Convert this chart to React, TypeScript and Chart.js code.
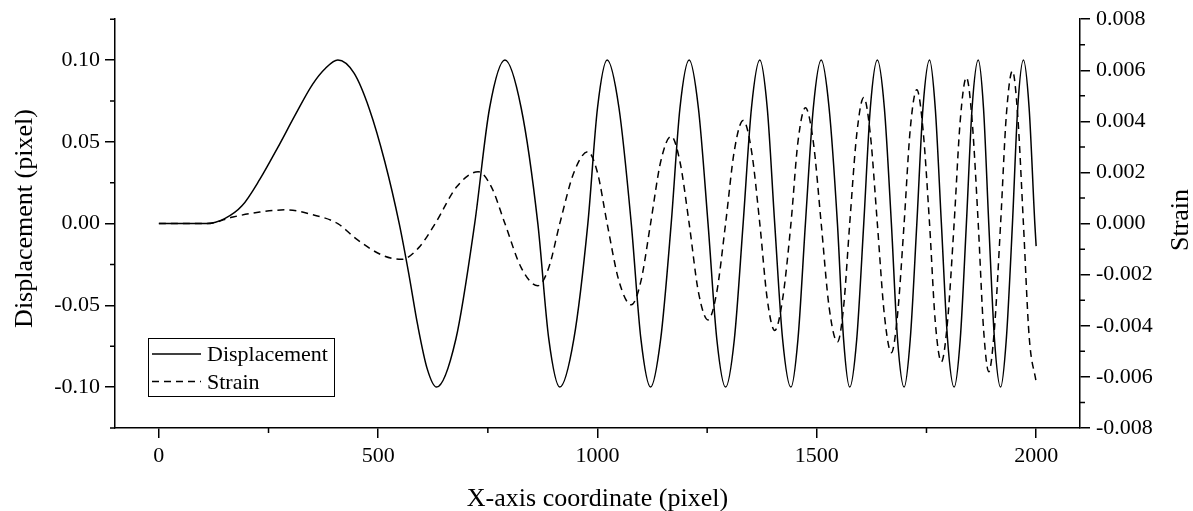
import { useEffect, useRef } from 'react';
import { Chart, registerables } from 'chart.js';

Chart.register(...registerables);

const FONT = "'Liberation Serif', 'Times New Roman', serif";

const xTitle = 'X-axis coordinate (pixel)';
const dispTitle = 'Displacement (pixel)';
const strainTitle = 'Strain';

const xTicks = [0, 500, 1000, 1500, 2000];
const xMinorTicks = [250, 750, 1250, 1750];
const dispTicks = [-0.1, -0.05, 0, 0.05, 0.1];
const dispMinorTicks = [-0.125, -0.075, -0.025, 0.025, 0.075, 0.125];
const strainTicks = [-0.008, -0.006, -0.004, -0.002, 0, 0.002, 0.004, 0.006, 0.008];
const strainMinorTicks = [-0.007, -0.005, -0.003, -0.001, 0.001, 0.003, 0.005, 0.007];

const dispX = [
  0, 110, 150, 190, 230, 270, 310, 350, 380, 408, 445, 480, 515, 548, 570, 590, 612, 633, 677, 720, 754, 789,
  826, 864, 889, 914, 946, 978, 1000, 1022, 1049, 1077, 1099, 1121, 1144, 1168, 1188, 1209,
  1230, 1252, 1272, 1292, 1312, 1332, 1351, 1370, 1387, 1404, 1422, 1441, 1457, 1474, 1492, 1510,
  1528, 1547, 1561, 1575, 1591, 1607, 1622, 1638, 1654, 1670, 1684, 1699, 1713, 1728, 1742, 1757,
  1770, 1784, 1798, 1813, 1827, 1841, 1854, 1868, 1880, 1892, 1905, 1919, 1932, 1946, 1958, 1971,
  1984, 1997, 2000,
];
const dispY = [
  0, 0, 0.003, 0.011, 0.027, 0.046, 0.066, 0.085, 0.095, 0.1, 0.092, 0.07, 0.038, 0, -0.031, -0.062, -0.089, -0.1, -0.0707, 0, 0.0707, 0.1,
  0.0707, 0, -0.0707, -0.1, -0.0707, 0, 0.0707, 0.1, 0.0707, 0, -0.0707, -0.1, -0.0707, 0, 0.0707, 0.1,
  0.0707, 0, -0.0707, -0.1, -0.0707, 0, 0.0707, 0.1, 0.0707, 0, -0.0707, -0.1, -0.0707, 0, 0.0707, 0.1,
  0.0707, 0, -0.0707, -0.1, -0.0707, 0, 0.0707, 0.1, 0.0707, 0, -0.0707, -0.1, -0.0707, 0, 0.0707, 0.1,
  0.0707, 0, -0.0707, -0.1, -0.0707, 0, 0.0707, 0.1, 0.0707, 0, -0.0707, -0.1, -0.0707, 0, 0.0707, 0.1,
  0.0707, 0, -0.0138,
];

const strainX = [
  0, 110, 169, 230, 290, 350, 408, 450, 511, 553, 592, 630, 679, 728, 758, 789,
  826, 864, 889, 914, 946, 978, 1000, 1022, 1049, 1077, 1099, 1121, 1144, 1168, 1188, 1209,
  1230, 1252, 1272, 1292, 1312, 1332, 1351, 1370, 1387, 1404, 1422, 1441, 1457, 1474, 1492, 1510,
  1528, 1547, 1561, 1575, 1591, 1607, 1622, 1638, 1654, 1670, 1684, 1699, 1713, 1728, 1742, 1757,
  1770, 1784, 1798, 1813, 1827, 1841, 1854, 1868, 1880, 1892, 1905, 1919, 1932, 1946, 1958, 1971,
  1984, 2000,
];
const strainY = [
  0, 0, 0.00026, 0.00045, 0.00054, 0.00035, 0, -0.0006, -0.00125, -0.0014, -0.00095, 0, 0.00144, 0.00203, 0.00144, 0,
  -0.00172, -0.00243, -0.00172, 0, 0.00199, 0.00281, 0.00199, 0, -0.00225, -0.00318, -0.00225, 0, 0.00242, 0.00342, 0.00242, 0,
  -0.00267, -0.00377, -0.00267, 0, 0.00286, 0.00404, 0.00286, 0, -0.00296, -0.00418, -0.00296, 0, 0.0032, 0.00453, 0.0032, 0,
  -0.00327, -0.00463, -0.00327, 0, 0.00349, 0.00494, 0.00349, 0, -0.00357, -0.00505, -0.00357, 0, 0.0037, 0.00524, 0.0037, 0,
  -0.00383, -0.00541, -0.00383, 0, 0.00404, 0.00572, 0.00404, 0, -0.0041, -0.0058, -0.0041, 0, 0.00423, 0.00598, 0.00423, 0,
  -0.0044, -0.0062,
];

const decor = {
  id: 'decor',
  afterDraw(chart: any) {
    const ctx = chart.ctx as CanvasRenderingContext2D;
    const { x, y, y1 } = chart.scales;
    ctx.save();
    ctx.strokeStyle = '#000';
    ctx.lineWidth = 1.5;
    ctx.beginPath();
    xMinorTicks.forEach((v) => {
      const p = x.getPixelForValue(v);
      ctx.moveTo(p, x.top);
      ctx.lineTo(p, x.top + 5);
    });
    dispMinorTicks.forEach((v) => {
      const p = y.getPixelForValue(v);
      ctx.moveTo(y.right, p);
      ctx.lineTo(y.right - 5, p);
    });
    strainMinorTicks.forEach((v) => {
      const p = y1.getPixelForValue(v);
      ctx.moveTo(y1.left, p);
      ctx.lineTo(y1.left + 5, p);
    });
    ctx.stroke();

    // axis titles
    ctx.fillStyle = '#000';
    ctx.font = `26px ${FONT}`;
    ctx.textAlign = 'center';
    ctx.textBaseline = 'alphabetic';
    ctx.fillText(xTitle, (x.left + x.right) / 2, 506);
    ctx.save();
    ctx.translate(31.5, 218.5);
    ctx.rotate(-Math.PI / 2);
    ctx.fillText(dispTitle, 0, 0);
    ctx.restore();
    ctx.save();
    ctx.translate(1188, 220);
    ctx.rotate(-Math.PI / 2);
    ctx.fillText(strainTitle, 0, 0);
    ctx.restore();

    // legend
    const ds = chart.data.datasets;
    ctx.lineWidth = 1;
    ctx.strokeStyle = '#000';
    ctx.strokeRect(148.5, 338.5, 186, 58);
    const rows = [354, 381.5];
    const bases = [361, 389];
    ds.forEach((d: any, i: number) => {
      ctx.save();
      ctx.lineWidth = 1.5;
      ctx.setLineDash(d.borderDash || []);
      ctx.beginPath();
      ctx.moveTo(152, rows[i]);
      ctx.lineTo(201, rows[i]);
      ctx.stroke();
      ctx.restore();
      ctx.font = `22px ${FONT}`;
      ctx.textAlign = 'left';
      ctx.fillText(d.label, 207, bases[i]);
    });
    ctx.restore();
  },
};

export default function App() {
  const ref = useRef<HTMLCanvasElement>(null);
  useEffect(() => {
    if (!ref.current) return;
    const tickFont = { family: FONT, size: 22 };
    const gridOpts = {
      drawOnChartArea: false,
      drawTicks: true,
      tickLength: 10,
      color: '#000',
      lineWidth: 1.5,
    };
    const chart = new Chart(ref.current, {
      type: 'line',
      data: {
        datasets: [
          {
            label: 'Displacement',
            data: dispX.map((v, i) => ({ x: v, y: dispY[i] })),
            yAxisID: 'y',
            borderColor: '#000',
            borderWidth: 1.5,
            pointRadius: 0,
            cubicInterpolationMode: 'monotone',
            fill: false,
          },
          {
            label: 'Strain',
            data: strainX.map((v, i) => ({ x: v, y: strainY[i] })),
            yAxisID: 'y1',
            borderColor: '#000',
            borderWidth: 1.5,
            borderDash: [7, 5],
            pointRadius: 0,
            cubicInterpolationMode: 'monotone',
            fill: false,
          },
        ],
      },
      options: {
        responsive: false,
        animation: false,
        events: [],
        layout: { padding: { top: 18, left: 0, right: 0, bottom: 0 } },
        plugins: { legend: { display: false }, tooltip: { enabled: false } },
        scales: {
          x: {
            type: 'linear',
            min: -100,
            max: 2100,
            afterBuildTicks: (s: any) => {
              s.ticks = xTicks.map((v) => ({ value: v }));
            },
            afterFit: (s: any) => {
              s.height = 83;
            },
            ticks: {
              font: tickFont,
              color: '#000',
              padding: 5,
              maxRotation: 0,
              callback: (v: any) => String(v),
            },
            grid: gridOpts,
            border: { display: true, color: '#000', width: 1.5 },
          },
          y: {
            type: 'linear',
            position: 'left',
            min: -0.125,
            max: 0.125,
            afterBuildTicks: (s: any) => {
              s.ticks = dispTicks.map((v) => ({ value: v }));
            },
            afterFit: (s: any) => {
              s.width = 115;
            },
            ticks: {
              font: tickFont,
              color: '#000',
              padding: 5,
              callback: (v: any) => Number(v).toFixed(2),
            },
            grid: gridOpts,
            border: { display: true, color: '#000', width: 1.5 },
          },
          y1: {
            type: 'linear',
            position: 'right',
            min: -0.008,
            max: 0.008,
            afterBuildTicks: (s: any) => {
              s.ticks = strainTicks.map((v) => ({ value: v }));
            },
            afterFit: (s: any) => {
              s.width = 113;
            },
            ticks: {
              font: tickFont,
              color: '#000',
              padding: 6,
              callback: (v: any) => Number(v).toFixed(3),
            },
            grid: gridOpts,
            border: { display: true, color: '#000', width: 1.5 },
          },
        },
      },
      plugins: [decor],
    } as any);
    return () => chart.destroy();
  }, []);
  return (
    <div style={{ position: 'absolute', left: 0, top: 0, width: 1193, height: 511, background: '#fff' }}>
      <canvas ref={ref} width={1193} height={511} style={{ display: 'block' }} />
    </div>
  );
}
